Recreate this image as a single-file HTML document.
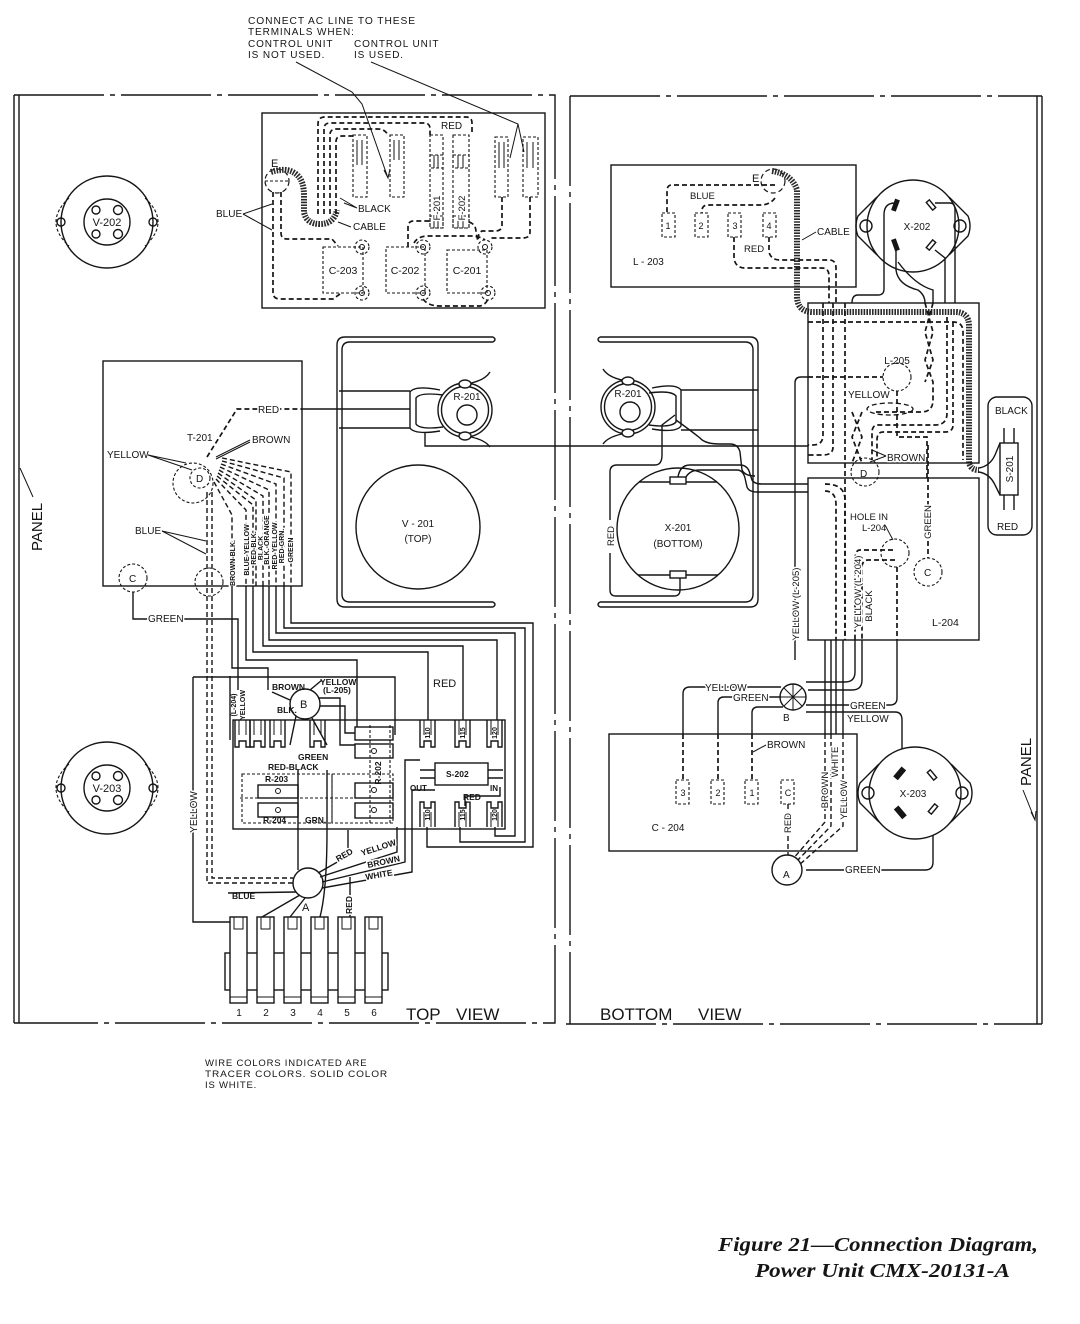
<!DOCTYPE html>
<html><head><meta charset="utf-8"><style>
html,body{margin:0;padding:0;background:#fff;}
svg{display:block;}
text{font-family:"Liberation Sans",Arial,sans-serif;fill:#151515;}
.s{fill:none;stroke:#151515;stroke-width:1.4}
.sw{fill:#fff;stroke:#151515;stroke-width:1.4}
.th{fill:none;stroke:#151515;stroke-width:1}
.d{fill:none;stroke:#151515;stroke-width:1.7;stroke-dasharray:5 3}
.dt{fill:none;stroke:#151515;stroke-width:1.1;stroke-dasharray:3 2}
.c{fill:none;stroke:#2a2a2a;stroke-width:6;stroke-dasharray:1.6 1.2}
.f{fill:none;stroke:#151515;stroke-width:1.4;stroke-dasharray:90 6 5 6}
.h{paint-order:stroke;stroke:#fff;stroke-width:3px;stroke-linejoin:round}
.l{font-size:10px;letter-spacing:0.4px}
.b{font-size:7px;font-weight:bold}
.sm{font-size:8.5px;font-weight:bold}
</style></head><body>
<svg width="1080" height="1324" viewBox="0 0 1080 1324" xmlns="http://www.w3.org/2000/svg">
<defs>
<g id="lugd"><path class="s" d="M0,0 V27 H4 V21 H11 V27 H15 V0"/><path class="th" d="M4,0 V15 M11,0 V15"/></g>
<g id="lugu"><path class="s" d="M0,25 V0 H4 V6 H11 V0 H15 V25"/><path class="th" d="M4,25 V10 M11,25 V10"/></g>
<g id="blk"><rect class="sw" x="0" y="0" width="17" height="86"/><path class="th" d="M4,0 V12 H13 V0 M0,80 H17"/></g>
<g id="sock"><path class="s" d="M-36,-29 L-55,-10 Q-59,0 -55,10 L-36,29 M36,-29 L55,-10 Q59,0 55,10 L36,29"/><circle class="sw" r="46"/><circle class="s" cx="-47" r="6"/><circle class="s" cx="47" r="6"/></g>
<g id="tube"><path class="dt" d="M-38,-24 Q-64,0 -38,24 M38,-24 Q64,0 38,24"/><circle class="s" r="46"/><circle class="s" cx="-46" r="4"/><circle class="s" cx="46" r="4"/><circle class="s" r="23"/><circle class="s" cx="-11" cy="-12" r="4"/><circle class="s" cx="11" cy="-12" r="4.5"/><circle class="s" cx="-11" cy="12" r="4"/><circle class="s" cx="11" cy="12" r="4.5"/></g>
</defs>

<!-- ===== top note ===== -->
<g font-size="10" letter-spacing="0.9">
<text x="248" y="24" textLength="168" lengthAdjust="spacingAndGlyphs">CONNECT AC LINE TO THESE</text>
<text x="248" y="35">TERMINALS WHEN:</text>
<text x="248" y="47">CONTROL UNIT</text>
<text x="354" y="47">CONTROL UNIT</text>
<text x="248" y="58">IS NOT USED.</text>
<text x="354" y="58">IS USED.</text>
</g>
<path class="th" d="M296,62 L352,92 L362,104 L388,178 M384,170 L388,178 L390,169"/>
<path class="th" d="M371,62 L518,124 L510,158 M518,124 L524,152"/>

<!-- ===== frames ===== -->
<path class="s" d="M14,95 V1023 M19,95 V1023"/>
<path class="f" d="M14,95 H555 V1023 H14"/>
<path class="f" d="M570,96 H1042 M570,96 V1024 M566,1024 H1042"/>
<path class="s" d="M1037,96 V1024 M1042,96 V1024"/>

<!-- panel labels -->
<text transform="translate(42,551) rotate(-90)" font-size="15">PANEL</text>
<path class="th" d="M33,497 L20,468"/>
<text transform="translate(1031,786) rotate(-90)" font-size="15">PANEL</text>
<path class="th" d="M1023,790 L1035,820 M1031,812 L1035,820 L1036,811"/>

<!-- tubes -->
<use href="#tube" x="107" y="222"/>
<text x="107" y="226" font-size="11" text-anchor="middle">V-202</text>
<use href="#tube" x="107" y="788"/>
<text x="107" y="792" font-size="11" text-anchor="middle">V-203</text>

<!-- ===== top-left box ===== -->
<rect class="s" x="262" y="113" width="283" height="195"/>
<circle class="d" cx="277" cy="181" r="12" style="stroke-width:1.2"/>
<path class="dt" d="M265,181 H289"/>
<text x="271" y="167" font-size="11">E</text>
<path class="c" d="M271,172 Q290,166 299,177 Q304,183 304,196 L304,212 Q306,224 320,224 Q334,224 337,210"/>
<!-- nested dashed loops -->
<path class="d" d="M318,214 L318,124 Q318,117 325,117 L466,117 Q472,117 472,123 L472,135"/>
<path class="d" d="M324,214 L324,129 Q324,123 330,123 L424,123 Q430,123 430,129 L430,135"/>
<path class="d" d="M330,214 L330,135 Q330,129 336,129 L378,129 Q385,129 388,135"/>
<path class="d" d="M336,214 L336,142 Q336,136 342,136 L353,136"/>
<text x="441" y="129" font-size="10" class="h">RED</text>
<!-- terminals -->
<g class="dt">
<rect x="353" y="135" width="14" height="62"/><rect x="390" y="135" width="14" height="62"/>
<rect x="430" y="135" width="13" height="93"/><rect x="453" y="135" width="16" height="93"/>
<rect x="495" y="137" width="13" height="60"/><rect x="523" y="137" width="15" height="60"/>
<rect x="430" y="155" width="13" height="13"/><rect x="453" y="155" width="16" height="13"/>
<rect x="430" y="216" width="13" height="12"/><rect x="453" y="216" width="16" height="12"/>
</g>
<path class="th" d="M357,140 V165 M362,140 V165 M394,140 V160 M399,140 V160 M499,142 V168 M504,142 V168 M527,142 V168 M533,142 V168 M434,155 V168 M438,155 V168 M458,155 V168 M463,155 V168 M434,216 V228 M438,216 V228 M458,216 V228 M463,216 V228"/>
<text transform="translate(440,208) rotate(-90)" font-size="9.5" text-anchor="middle" class="h">F-201</text>
<text transform="translate(465,208) rotate(-90)" font-size="9.5" text-anchor="middle" class="h">F-202</text>
<!-- capacitors -->
<g class="dt">
<rect x="323" y="247" width="40" height="46"/><rect x="386" y="247" width="39" height="46"/><rect x="447" y="250" width="40" height="43"/>
<circle cx="362" cy="247" r="7"/><circle cx="362" cy="293" r="7"/><circle cx="423" cy="247" r="7"/><circle cx="423" cy="293" r="7"/><circle cx="485" cy="247" r="7"/><circle cx="488" cy="293" r="7"/>
</g>
<g class="th"><circle cx="362" cy="247" r="2.5"/><circle cx="362" cy="293" r="2.5"/><circle cx="423" cy="247" r="2.5"/><circle cx="423" cy="293" r="2.5"/><circle cx="485" cy="247" r="2.5"/><circle cx="488" cy="293" r="2.5"/></g>
<g font-size="10.5" text-anchor="middle"><text x="343" y="274">C-203</text><text x="405" y="274">C-202</text><text x="467" y="274">C-201</text></g>
<!-- cap wires -->
<path class="d" d="M273,192 L273,292 Q273,299 280,299 L333,299 L340,294"/>
<path class="d" d="M281,192 L281,233 Q281,239 287,239 L332,239 L338,246"/>
<path class="d" d="M408,247 L408,227 Q408,221 414,221 L430,221"/>
<path class="d" d="M469,222 Q476,224 476,232 L478,242"/>
<path class="d" d="M414,243 Q418,236 428,236 L470,236 Q480,236 485,240"/>
<path class="d" d="M502,197 L502,225 Q502,231 495,231 L482,231 Q478,233 478,240"/>
<path class="d" d="M530,197 L530,232 Q530,238 523,238 L490,238"/>
<path class="d" d="M423,299 Q428,306 440,306 L480,306 Q487,304 488,298"/>
<text x="216" y="217" font-size="10">BLUE</text>
<path class="th" d="M243,214 L272,204 M243,214 L272,230"/>
<text x="358" y="212" font-size="10">BLACK</text>
<path class="th" d="M357,208 L340,198 M357,208 L344,203"/>
<text x="353" y="230" font-size="10">CABLE</text>
<path class="th" d="M351,227 L338,222"/>

<!-- ===== T-201 box ===== -->
<rect class="s" x="103" y="361" width="199" height="225"/>
<path class="d" d="M207,457 L237,409 L302,409"/>
<text x="258" y="413" font-size="10" class="h">RED</text>
<path class="s" d="M302,409 L410,409"/>
<text x="187" y="441" font-size="10">T-201</text>
<text x="252" y="443" font-size="10">BROWN</text>
<path class="th" d="M250,440 L216,457 M250,442 L216,459"/>
<text x="107" y="458" font-size="10">YELLOW</text>
<path class="th" d="M148,455 L186,463 M148,455 L192,470"/>
<circle class="dt" cx="193" cy="483" r="20"/>
<circle class="dt" cx="200" cy="478" r="10"/>
<text x="196" y="482" font-size="10">D</text>
<g class="d" style="stroke-width:1.4">
<path d="M222,458 L291,472 V586"/><path d="M222,461 L284,478 V586"/><path d="M221,464 L276,484 V586"/>
<path d="M220,467 L269,490 V586"/><path d="M219,470 L263,496 V586"/><path d="M218,473 L256,500 V586"/>
<path d="M217,476 L253,505 V586"/><path d="M216,479 L246,510 V586"/><path d="M214,482 L232,515 V586"/>
</g>
<g class="b h" text-anchor="middle">
<text transform="translate(235,563) rotate(-90)">BROWN-BLK.</text>
<text transform="translate(249,550) rotate(-90)">BLUE-YELLOW</text>
<text transform="translate(256,548) rotate(-90)">RED-BLK.</text>
<text transform="translate(263,548) rotate(-90)">BLACK</text>
<text transform="translate(269,540) rotate(-90)">BLK.-ORANGE</text>
<text transform="translate(277,546) rotate(-90)">RED-YELLOW</text>
<text transform="translate(284,546) rotate(-90)">RED-GRN.</text>
<text transform="translate(293,550) rotate(-90)">GREEN</text>
</g>
<text x="135" y="534" font-size="10">BLUE</text>
<path class="th" d="M162,531 L206,541 M162,531 L206,554"/>
<path class="d" d="M207,492 V883 H293 M212,492 V878 H293" style="stroke-width:1.4"/>
<circle class="dt" cx="133" cy="578" r="14"/>
<text x="129" y="582" font-size="10">C</text>
<circle class="dt" cx="209" cy="582" r="14"/>
<path class="s" d="M133,592 V619 H238 V690"/>
<text x="148" y="622" font-size="10" class="h">GREEN</text>

<!-- bundle from T-201 -->
<g class="s">
<path d="M291,586 V623 H533 V847 H427 V827"/>
<path d="M284,586 V628 H525 V842 H460 V827"/>
<path d="M276,586 V633 H515 V836 H495 V827"/>
<path d="M269,586 V640 H497 V720"/>
<path d="M263,586 V646 H463 V720"/>
<path d="M253,586 V652 H428 V720"/>
<path d="M246,586 V660 H357 V733"/>
<path d="M232,586 V668 H268 V690"/>
<path d="M230,676 V740"/>
</g>
<text x="433" y="687" font-size="11">RED</text>

<!-- board -->
<path class="s" d="M193,677 H395 V735"/>
<path class="s" d="M193,677 V922 H233"/>
<text transform="translate(197,812) rotate(-90)" font-size="10" text-anchor="middle" class="h">YELLOW</text>
<rect class="s" x="233" y="720" width="272" height="109"/>
<use href="#lugd" x="235" y="720"/><use href="#lugd" x="250" y="720"/>
<use href="#lugd" x="270" y="720"/><use href="#lugd" x="310" y="720"/>
<use href="#lugd" x="420" y="720"/><use href="#lugd" x="455" y="720"/><use href="#lugd" x="487" y="720"/>
<use href="#lugu" x="420" y="802"/><use href="#lugu" x="455" y="802"/><use href="#lugu" x="487" y="802"/>
<g font-size="7" font-weight="bold" text-anchor="middle">
<text transform="translate(430,733) rotate(-90)">110</text><text transform="translate(465,733) rotate(-90)">115</text><text transform="translate(497,733) rotate(-90)">120</text>
<text transform="translate(430,815) rotate(-90)">110</text><text transform="translate(465,815) rotate(-90)">115</text><text transform="translate(497,815) rotate(-90)">120</text>
</g>
<g class="sw">
<rect x="355" y="727" width="38" height="13"/><rect x="355" y="744" width="38" height="14"/>
<rect x="355" y="783" width="38" height="15"/><rect x="355" y="803" width="38" height="15"/>
<rect x="258" y="785" width="40" height="13"/><rect x="258" y="803" width="40" height="14"/>
</g>
<g class="th"><circle cx="374" cy="751" r="2.5"/><circle cx="374" cy="790" r="2.5"/><circle cx="374" cy="810" r="2.5"/><circle cx="278" cy="791" r="2.5"/><circle cx="278" cy="810" r="2.5"/></g>
<g class="dt"><rect x="242" y="774" width="90" height="49"/><rect x="332" y="774" width="61" height="49"/><path d="M370,725 V823 M390,725 V823 M240,798 H395"/></g>
<text transform="translate(381,773) rotate(-90)" class="sm" text-anchor="middle">R-202</text>
<rect class="sw" x="435" y="763" width="53" height="22"/>
<path class="s" d="M420,770 H435 M420,778 H435 M488,770 H503 M488,778 H503"/>
<text x="446" y="777" class="sm">S-202</text>
<text x="410" y="791" font-size="8" font-weight="bold">OUT</text>
<text x="490" y="791" font-size="8" font-weight="bold">IN</text>
<text x="463" y="800" class="sm h">RED</text>
<path class="s" d="M465,806 V796 H500 V787"/>
<circle class="sw" cx="305" cy="704" r="15"/>
<text x="300" y="708" font-size="11">B</text>
<path class="s" d="M290,700 L272,692 M296,716 L290,745 M312,718 L327,745 M318,698 L340,698 L340,745 L355,745 M320,706 L345,706 L345,733 L355,733 M310,690 L322,680"/>
<text x="272" y="690" class="sm">BROWN</text>
<text x="320" y="685" class="sm">YELLOW</text>
<text x="323" y="693" class="sm">(L-205)</text>
<text x="277" y="713" class="sm">BLK.</text>
<text x="298" y="760" class="sm">GREEN</text>
<text x="268" y="770" class="sm">RED-BLACK</text>
<text x="265" y="782" class="sm">R-203</text>
<text x="263" y="823" class="sm">R-204</text>
<text x="305" y="823" class="sm">GRN.</text>
<text transform="translate(236,705) rotate(-90)" font-size="7" font-weight="bold" text-anchor="middle">(L-204)</text>
<text transform="translate(245,705) rotate(-90)" font-size="7" font-weight="bold" text-anchor="middle">YELLOW</text>
<!-- A junction -->
<circle class="sw" cx="308" cy="883" r="15"/>
<text x="302" y="911" font-size="11">A</text>
<path class="s" d="M298,770 V870 M327,770 V830 Q327,890 320,917 M320,877 L397,852 V827 M322,882 L405,862 V760 H420 M322,888 L412,872 V790 H435 M318,873 L348,856 V830 M350,877 V917"/>
<path class="s" d="M300,895 L262,917 M305,898 L290,917 M296,892 L228,893"/>
<text transform="translate(338,862) rotate(-30)" class="sm h">RED</text>
<text transform="translate(362,856) rotate(-18)" class="sm h">YELLOW</text>
<text transform="translate(368,868) rotate(-12)" class="sm h">BROWN</text>
<text transform="translate(366,880) rotate(-10)" class="sm h">WHITE</text>
<text x="232" y="899" class="sm">BLUE</text>
<text transform="translate(352,905) rotate(-90)" class="sm h" text-anchor="middle">RED</text>
<!-- terminal strip -->
<rect class="s" x="225" y="953" width="163" height="37"/>
<use href="#blk" x="230" y="917"/><use href="#blk" x="257" y="917"/><use href="#blk" x="284" y="917"/>
<use href="#blk" x="311" y="917"/><use href="#blk" x="338" y="917"/><use href="#blk" x="365" y="917"/>
<g font-size="10" text-anchor="middle"><text x="239" y="1016">1</text><text x="266" y="1016">2</text><text x="293" y="1016">3</text><text x="320" y="1016">4</text><text x="347" y="1016">5</text><text x="374" y="1016">6</text></g>
<text x="406" y="1020" font-size="17">TOP</text>
<text x="456" y="1020" font-size="17">VIEW</text>

<!-- ===== center chassis ===== -->
<path class="s" d="M493,337 H345 Q337,337 337,345 V599 Q337,607 345,607 H493 M493,342 H350 Q342,342 342,350 V594 Q342,602 350,602 H493 M493,337 Q497,339.5 493,342 M493,602 Q497,604.5 493,607"/>
<path class="s" d="M600,337 H750 Q758,337 758,345 V599 Q758,607 750,607 H600 M600,342 H745 Q753,342 753,350 V594 Q753,602 745,602 H600 M600,337 Q596,339.5 600,342 M600,602 Q596,604.5 600,607"/>
<circle class="s" cx="418" cy="527" r="62"/>
<text x="418" y="527" font-size="10" text-anchor="middle">V - 201</text>
<text x="418" y="542" font-size="10" text-anchor="middle">(TOP)</text>
<!-- R-201 left -->
<circle class="s" cx="465" cy="410" r="27"/><circle class="s" cx="465" cy="410" r="23.5"/><circle class="s" cx="467" cy="415" r="10"/>
<ellipse class="sw" cx="465" cy="384" rx="6" ry="4"/><ellipse class="sw" cx="465" cy="436" rx="6" ry="4"/>
<path class="s" d="M471,383 Q485,380 490,372 M471,437 Q485,440 490,447"/>
<text x="467" y="400" font-size="10" text-anchor="middle">R-201</text>
<path class="s" d="M440,390 Q415,385 410,392 V428 Q415,435 440,431 M443,395 Q420,392 416,398 V424 Q420,430 443,427"/>
<path class="s" d="M339,391 H410 M339,428 H410 M425,432 V446 H808"/>
<!-- R-201 right -->
<circle class="s" cx="628" cy="407" r="27"/><circle class="s" cx="628" cy="407" r="23.5"/><circle class="s" cx="630" cy="412" r="10"/>
<ellipse class="sw" cx="628" cy="381" rx="6" ry="4"/><ellipse class="sw" cx="628" cy="433" rx="6" ry="4"/>
<path class="s" d="M622,380 Q608,377 603,369 M622,434 Q608,437 603,444"/>
<text x="628" y="397" font-size="10" text-anchor="middle">R-201</text>
<path class="s" d="M652,388 Q676,383 681,390 V426 Q676,433 652,429 M649,393 Q671,390 676,396 V422 Q671,428 649,425"/>
<path class="s" d="M681,390 H758 M681,430 H758"/>
<!-- X-201 -->
<circle class="s" cx="678" cy="529" r="61"/>
<path class="s" d="M639,482 H717 M638,575 H718"/>
<rect class="sw" x="670" y="477" width="16" height="7"/><rect class="sw" x="670" y="571" width="16" height="7"/>
<text x="678" y="531" font-size="10" text-anchor="middle">X-201</text>
<text x="678" y="547" font-size="10" text-anchor="middle">(BOTTOM)</text>
<path class="s" d="M680,578 V590 Q680,596 674,596 H616 Q610,596 610,590 V553 M610,520 V472 Q610,465 617,465 H655 Q662,465 662,455 V425 L675,415"/>
<text transform="translate(614,536) rotate(-90)" font-size="9.5" text-anchor="middle">RED</text>
<path class="s" d="M678,477 Q680,465 690,465 H740 Q748,465 750,474 L752,480 Q754,484 762,484 H808"/>
<path class="s" d="M686,477 Q690,470 700,470 H737 Q743,470 745,478 L747,487 Q749,492 757,492 H808"/>
<path class="s" d="M676,420 Q690,430 700,438 Q705,444 720,444 H730 Q738,444 740,452 L742,470 Q745,476 755,476"/>
<path class="s" d="M795,660 V383 Q795,377 801,377 H808"/>
<path class="d" d="M808,377 H883"/>

<!-- ===== L-203 ===== -->
<rect class="s" x="611" y="165" width="245" height="122"/>
<g class="dt"><rect x="662" y="213" width="13" height="24"/><rect x="695" y="213" width="13" height="24"/><rect x="728" y="213" width="13" height="24"/><rect x="763" y="213" width="13" height="24"/></g>
<g font-size="9" text-anchor="middle"><text x="668" y="229">1</text><text x="701" y="229">2</text><text x="735" y="229">3</text><text x="769" y="229">4</text></g>
<text x="633" y="265" font-size="10">L - 203</text>
<circle class="d" cx="773" cy="181" r="12" style="stroke-width:1.2"/>
<text x="752" y="182" font-size="11">E</text>
<path class="d" d="M775,185 L672,185 Q667,185 667,191 L667,213"/>
<path class="d" d="M775,198 Q770,205 760,205 L708,205 Q702,205 702,211 L702,213"/>
<text x="690" y="199" font-size="9.5" class="h">BLUE</text>
<path class="d" d="M734,237 V259 Q736,268 745,268 H822 Q829,268 829,276 V303"/>
<path class="d" d="M769,237 V252 Q771,260 780,260 H829 Q836,260 836,268 V303"/>
<text x="744" y="252" font-size="9.5" class="h">RED</text>
<path class="c" d="M772,171 Q792,174 797,190 L797,296 Q797,312 813,312 L955,312 Q969,312 969,326 L969,460 Q969,470 979,470"/>
<text x="817" y="235" font-size="10">CABLE</text>
<path class="th" d="M816,232 L802,240"/>
<!-- X-202 -->
<use href="#sock" x="913" y="226"/>
<text x="917" y="230" font-size="10" text-anchor="middle">X-202</text>
<rect x="893" y="199" width="5" height="12" fill="#151515" transform="rotate(20 895 205)"/>
<rect x="893" y="239" width="5" height="12" fill="#151515" transform="rotate(-20 895 245)"/>
<rect class="s" x="929" y="200" width="4" height="10" transform="rotate(-40 931 205)"/>
<rect class="s" x="929" y="240" width="4" height="10" transform="rotate(40 931 245)"/>
<path class="s" d="M895,203 Q884,203 884,215 L884,289 Q884,295 878,295 H858 Q852,295 852,303"/>
<path class="s" d="M896,250 L896,270 Q898,285 918,290 Q925,295 925,303 M898,262 Q915,285 933,290 L933,303"/>
<path class="s" d="M935,203 H950 Q955,203 955,210 V303 M935,250 L945,258 V303"/>

<!-- ===== L-205 / L-204 ===== -->
<rect class="s" x="808" y="303" width="171" height="160"/>
<rect class="s" x="808" y="478" width="171" height="162"/>
<path class="d" d="M823,303 V435 Q823,445 813,445 H808 M833,303 V447 Q833,455 823,455 H808 M845,303 V640"/>
<path class="d" d="M808,322 H953 Q963,322 963,332 V460"/>
<path class="d" d="M925,303 L933,332 L925,360 L933,382 V400 Q933,412 921,412 H875 M933,303 L925,332 L933,360 L925,382"/>
<path class="d" d="M947,317 V413 Q947,425 935,425 H878 Q872,425 872,433 V460"/>
<path class="d" d="M953,322 V425 Q953,432 945,432 H883 Q877,432 877,440 V460"/>
<path class="d" d="M897,391 V437 H927 V478"/>
<path class="d" d="M852,412 L862,437 L852,463 M862,412 L852,437 L862,463"/>
<ellipse class="d" cx="890" cy="409" rx="23" ry="6" style="stroke-width:1.3"/>
<circle class="dt" cx="897" cy="377" r="14"/>
<text x="897" y="364" font-size="10" text-anchor="middle">L-205</text>
<text x="848" y="398" font-size="10" class="h">YELLOW</text>
<text x="887" y="461" font-size="10" class="h">BROWN</text>
<path class="th" d="M886,456 L870,462 M886,456 L872,450"/>
<circle class="dt" cx="865" cy="472" r="14"/>
<text x="860" y="477" font-size="10">D</text>
<text x="850" y="520" font-size="9.5">HOLE IN</text>
<text x="862" y="531" font-size="9.5">L-204</text>
<path class="th" d="M885,525 L893,540"/>
<circle class="dt" cx="895" cy="553" r="14"/>
<path class="d" d="M928,445 V558"/>
<text transform="translate(931,522) rotate(-90)" font-size="9.5" text-anchor="middle" class="h">GREEN</text>
<circle class="dt" cx="928" cy="572" r="14"/>
<text x="924" y="576" font-size="10">C</text>
<text x="932" y="626" font-size="10.5">L-204</text>
<path class="d" d="M825,484 Q845,484 845,500 V640"/>
<path class="d" d="M825,491 Q836,491 836,505 V640"/>
<path class="d" d="M893,550 H860 Q855,550 855,560 V640 M895,560 H868 Q862,560 862,568 V640 M897,567 V640"/>
<text transform="translate(799,604) rotate(-90)" font-size="9.5" text-anchor="middle" class="h">YELLOW (L-205)</text>
<text transform="translate(861,592) rotate(-90)" font-size="9.5" text-anchor="middle" class="h">YELLOW (L-204)</text>
<text transform="translate(872,606) rotate(-90)" font-size="9.5" text-anchor="middle" class="h">BLACK</text>
<!-- S-201 -->
<rect class="s" x="988" y="397" width="44" height="138" rx="9"/>
<rect class="sw" x="1000" y="443" width="18" height="52"/>
<path class="s" d="M1004,443 V428 M1014,443 V428 M1004,495 V510 M1014,495 V510 M979,468 Q990,466 995,455 L1000,443 M979,472 Q990,474 995,485 L1000,495"/>
<text transform="translate(1013,469) rotate(-90)" font-size="10" text-anchor="middle">S-201</text>
<text x="995" y="414" font-size="10" class="h">BLACK</text>
<text x="997" y="530" font-size="10" class="h">RED</text>

<!-- ===== bottom right ===== -->
<path class="s" d="M825,640 V734 M831,640 V734 M836,640 V734 M843,640 V734 M855,640 V672 Q855,682 845,682 H806 M862,640 V680 Q862,690 852,690 H808 M897,640 V698 Q897,705 890,705 H806"/>
<circle class="sw" cx="793" cy="697" r="13"/>
<path class="th" d="M793,684 V710 M780,697 H806 M784,688 L802,706 M802,688 L784,706"/>
<text x="783" y="721" font-size="10">B</text>
<path class="s" d="M781,687 H690 Q683,687 683,694 V734 M781,697 H724 Q718,697 718,703 V734 M783,707 H758 Q752,707 752,713 V734 M806,712 H895 Q902,712 902,720 V773"/>
<text x="705" y="691" font-size="10" class="h">YELLOW</text>
<text x="733" y="701" font-size="10" class="h">GREEN</text>
<text x="850" y="709" font-size="10" class="h">GREEN</text>
<text x="847" y="722" font-size="10" class="h">YELLOW</text>
<rect class="s" x="609" y="734" width="248" height="117"/>
<path class="d" d="M683,734 V780 M718,734 V780 M752,734 V780"/>
<g class="dt"><rect x="676" y="780" width="13" height="24"/><rect x="711" y="780" width="13" height="24"/><rect x="745" y="780" width="13" height="24"/><rect x="781" y="780" width="13" height="24"/></g>
<g font-size="9" text-anchor="middle"><text x="683" y="796">3</text><text x="718" y="796">2</text><text x="752" y="796">1</text><text x="788" y="796">C</text></g>
<text x="668" y="831" font-size="10" text-anchor="middle">C - 204</text>
<text x="767" y="748" font-size="10" class="h">BROWN</text>
<path class="th" d="M766,745 L753,752"/>
<path class="d" d="M825,734 V822 L792,860 M831,734 V826 L795,863 M843,734 V826 L798,866" style="stroke-width:1.4"/>
<path class="d" d="M788,804 V856" style="stroke-width:1.4"/>
<text transform="translate(791,823) rotate(-90)" font-size="9.5" text-anchor="middle" class="h">RED</text>
<text transform="translate(828,790) rotate(-90)" font-size="9.5" text-anchor="middle" class="h">BROWN</text>
<text transform="translate(838,762) rotate(-90)" font-size="9.5" text-anchor="middle" class="h">WHITE</text>
<text transform="translate(847,800) rotate(-90)" font-size="9.5" text-anchor="middle" class="h">YELLOW</text>
<circle class="sw" cx="787" cy="870" r="15"/>
<text x="783" y="878" font-size="10">A</text>
<path class="s" d="M806,870 H925 Q933,870 933,862 V812"/>
<text x="845" y="873" font-size="10" class="h">GREEN</text>
<use href="#sock" x="915" y="793"/>
<text x="913" y="797" font-size="10" text-anchor="middle">X-203</text>
<rect x="897" y="767" width="6" height="13" fill="#151515" transform="rotate(40 900 773)"/>
<rect x="897" y="806" width="6" height="13" fill="#151515" transform="rotate(-40 900 812)"/>
<rect class="s" x="930" y="770" width="4" height="10" transform="rotate(-40 932 775)"/>
<rect class="s" x="931" y="804" width="4" height="10" transform="rotate(40 933 809)"/>
<text x="600" y="1020" font-size="17">BOTTOM</text>
<text x="698" y="1020" font-size="17">VIEW</text>

<!-- ===== notes ===== -->
<g font-size="9.5" letter-spacing="0.8">
<text x="205" y="1066">WIRE COLORS INDICATED ARE</text>
<text x="205" y="1077" textLength="183" lengthAdjust="spacingAndGlyphs">TRACER COLORS. SOLID COLOR</text>
<text x="205" y="1088">IS WHITE.</text>
</g>
<g font-family="'Liberation Serif',serif" font-style="italic" font-weight="bold" font-size="20">
<text x="718" y="1251" textLength="320" lengthAdjust="spacingAndGlyphs" style="font-family:'Liberation Serif',serif">Figure 21—Connection Diagram,</text>
<text x="755" y="1277" textLength="255" lengthAdjust="spacingAndGlyphs" style="font-family:'Liberation Serif',serif">Power Unit CMX-20131-A</text>
</g>
</svg>
</body></html>
